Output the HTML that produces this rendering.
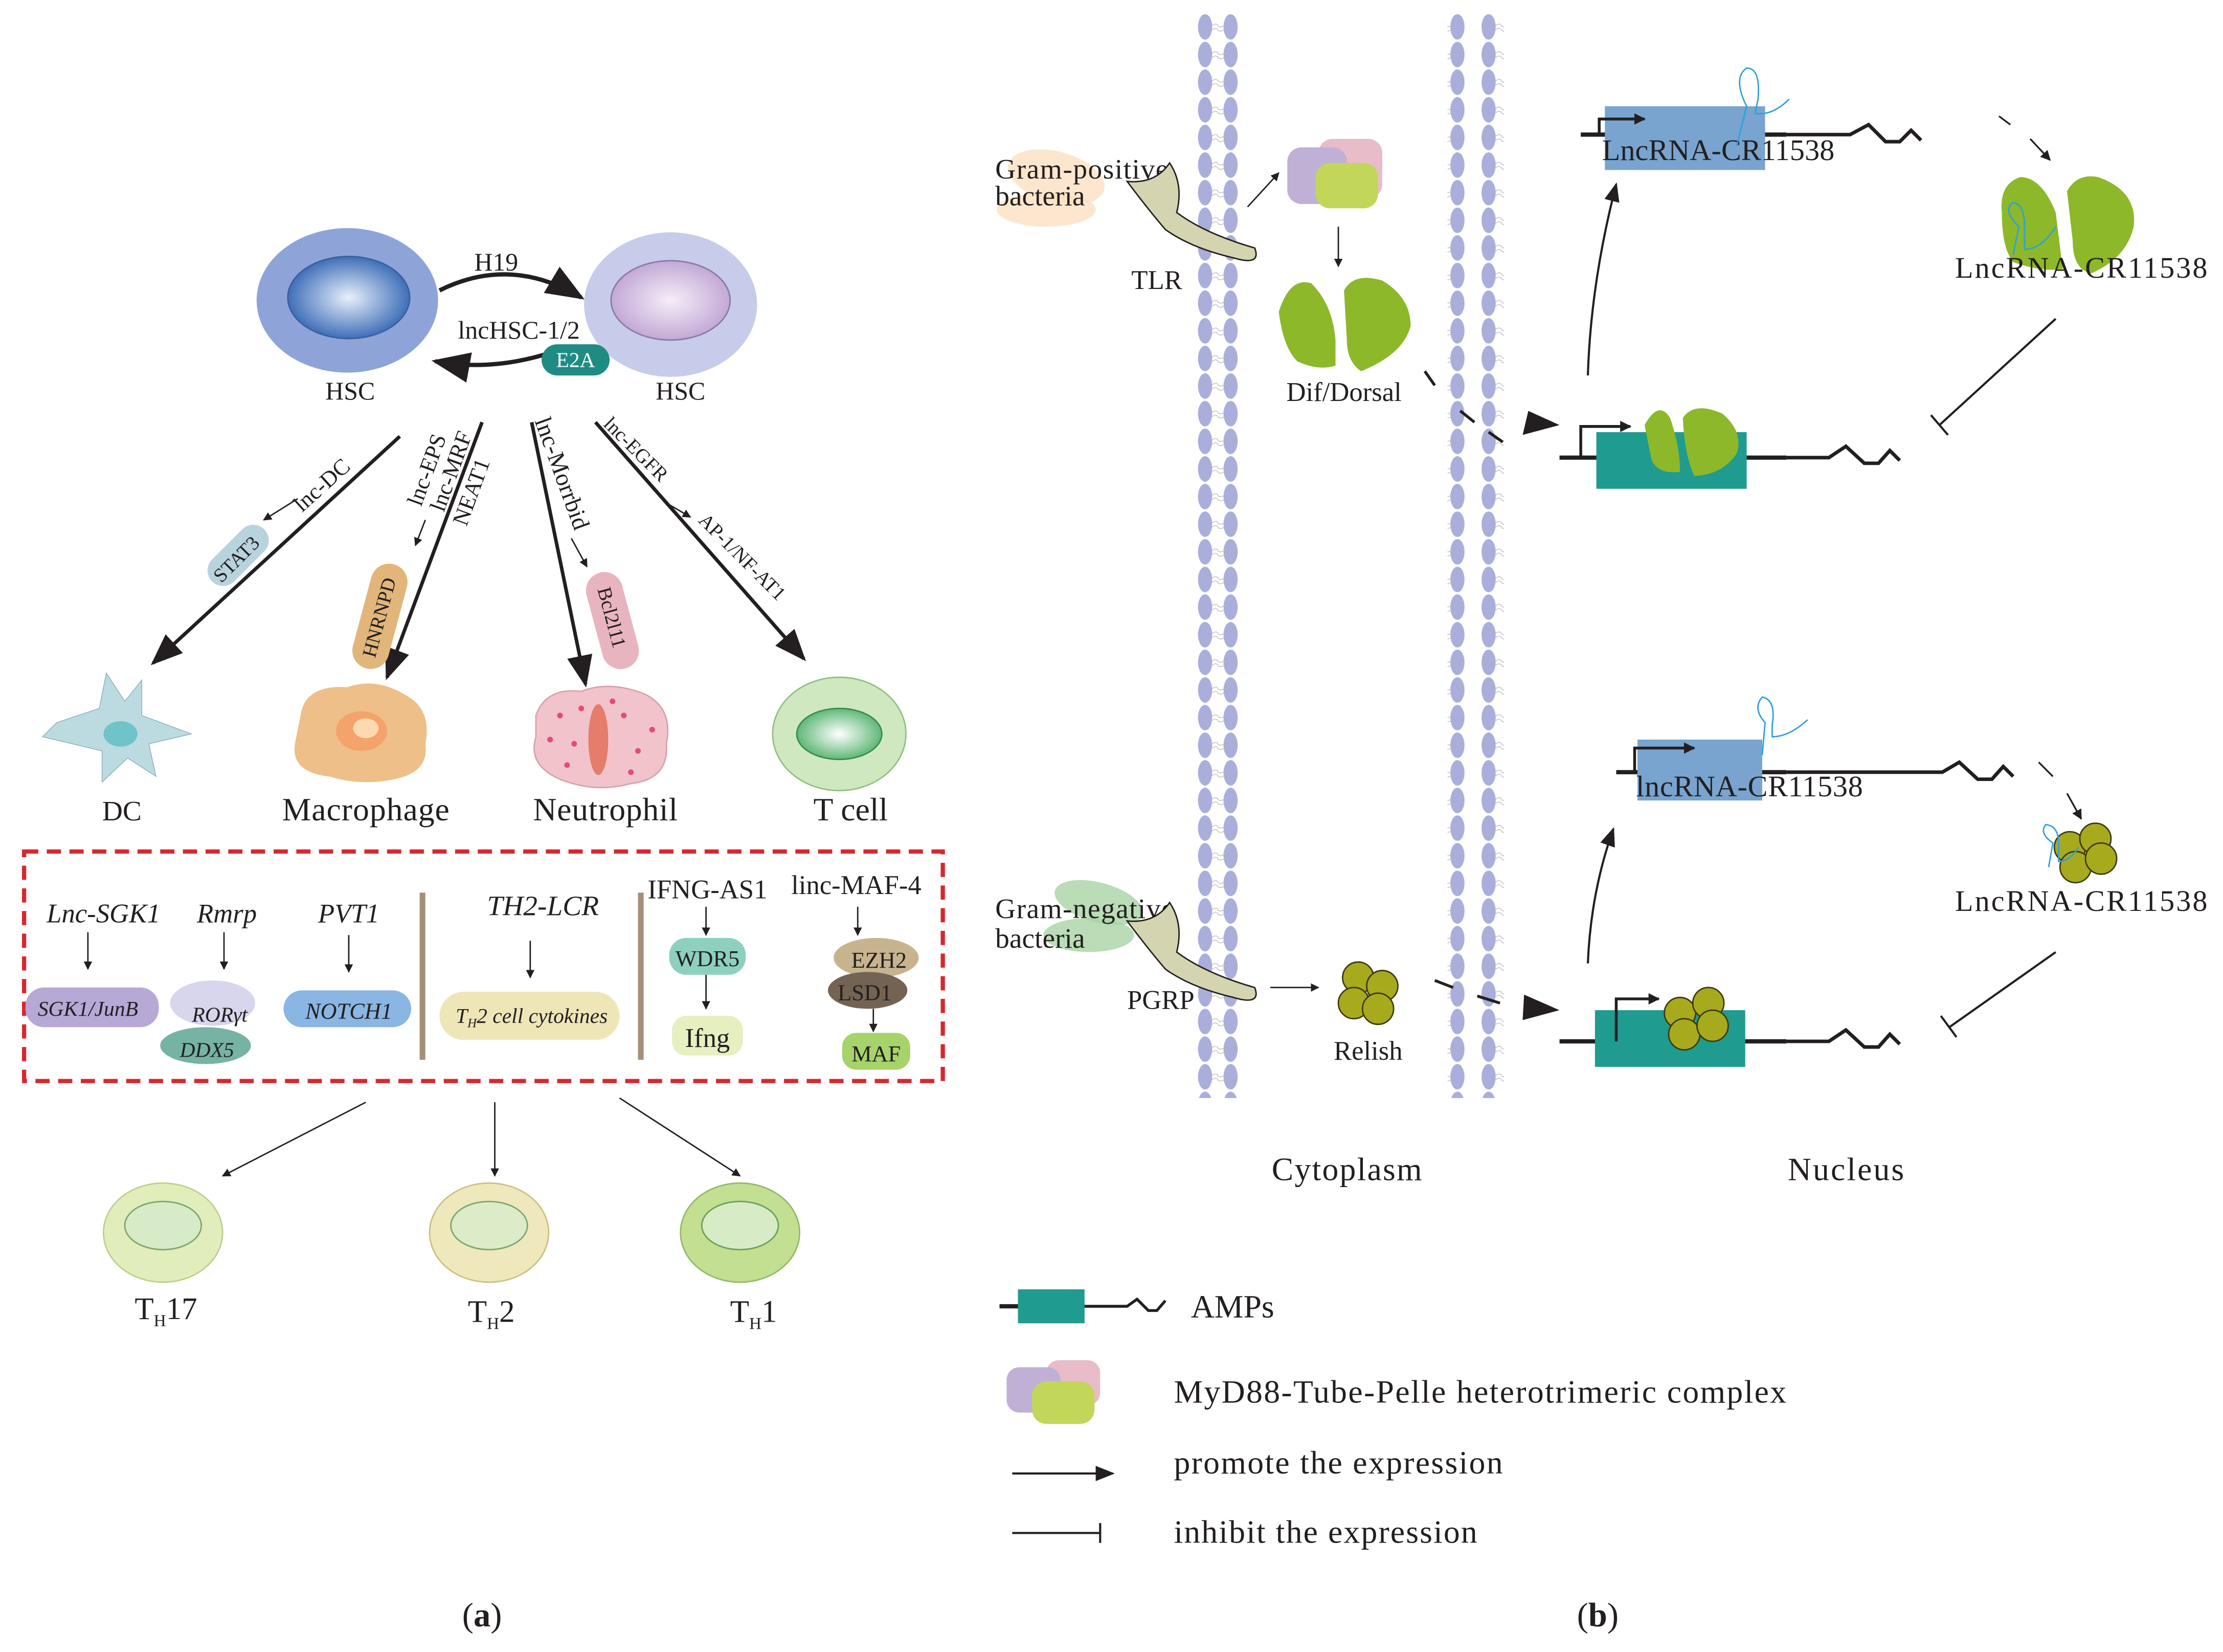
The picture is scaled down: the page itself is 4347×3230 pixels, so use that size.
<!DOCTYPE html>
<html><head><meta charset="utf-8"><style>
html,body{margin:0;padding:0;background:#fff}
svg{display:block}
text{font-family:"Liberation Serif",serif;fill:#231f20}
</style></head><body>
<svg width="4347" height="3230" viewBox="0 0 1568 1166" preserveAspectRatio="none" xmlns="http://www.w3.org/2000/svg">
<defs>
<marker id="ah" viewBox="0 0 10 10" refX="9" refY="5" markerWidth="6" markerHeight="6" orient="auto-start-reverse"><path d="M0,0L10,5L0,10z" fill="#231f20"/></marker>
<marker id="ahs" viewBox="0 0 10 10" refX="9" refY="5" markerWidth="9" markerHeight="9" orient="auto"><path d="M0,1L10,5L0,9z" fill="#231f20"/></marker>
<marker id="ahb" viewBox="0 0 10 10" refX="9" refY="5" markerWidth="4" markerHeight="4" orient="auto"><path d="M0,0L10,5L0,10z" fill="#231f20"/></marker>
<pattern id="mem" x="0" y="10" width="40" height="19.5" patternUnits="userSpaceOnUse">
<ellipse cx="10" cy="9" rx="5" ry="9" fill="#a9aedb"/>
<ellipse cx="28" cy="9" rx="5" ry="9" fill="#a9aedb"/>
<path d="M15,8 q3,-2 4,0 t5,0 M15,11 q3,-2 4,0 t5,0" stroke="#bbb" stroke-width="0.5" fill="none"/>
</pattern>
<radialGradient id="g1"><stop offset="0" stop-color="#e8f0fb"/><stop offset="1" stop-color="#3f6fb8"/></radialGradient>
<radialGradient id="g2"><stop offset="0" stop-color="#f5eef8"/><stop offset="1" stop-color="#c3a9d6"/></radialGradient>
<radialGradient id="g3"><stop offset="0" stop-color="#ffffff"/><stop offset="1" stop-color="#5fb878"/></radialGradient>
</defs>

<!-- ============ Panel a ============ -->
<ellipse cx="245" cy="212" rx="64" ry="51" fill="#8ea4d8"/>
<ellipse cx="246" cy="210" rx="43" ry="29" fill="url(#g1)" stroke="#3a5f9e" stroke-width="1"/>
<ellipse cx="473" cy="215" rx="61" ry="51" fill="#c6cce9"/>
<ellipse cx="473" cy="212" rx="42" ry="28" fill="url(#g2)" stroke="#8a79a8" stroke-width="1"/>
<text x="247" y="282" font-size="18" text-anchor="middle">HSC</text>
<text x="480" y="282" font-size="18" text-anchor="middle">HSC</text>
<path d="M310,205 Q360,180 410,210" fill="none" stroke="#231f20" stroke-width="3" marker-end="url(#ahs)"/>
<text x="350" y="191" font-size="18" text-anchor="middle">H19</text>
<text x="366" y="239" font-size="18" text-anchor="middle">lncHSC-1/2</text>
<path d="M385,250 Q345,262 307,255" fill="none" stroke="#231f20" stroke-width="3" marker-end="url(#ahs)"/>
<rect x="382" y="243" width="48" height="22" rx="11" fill="#1f8c84"/>
<text x="406" y="259" font-size="15" text-anchor="middle" style="fill:#fff">E2A</text>

<line x1="282" y1="308" x2="108" y2="468" stroke="#231f20" stroke-width="2.5" marker-end="url(#ahs)"/>
<line x1="340" y1="298" x2="273" y2="478" stroke="#231f20" stroke-width="2.5" marker-end="url(#ahs)"/>
<line x1="375" y1="298" x2="413" y2="483" stroke="#231f20" stroke-width="2.5" marker-end="url(#ahs)"/>
<line x1="420" y1="298" x2="567" y2="465" stroke="#231f20" stroke-width="2.5" marker-end="url(#ahs)"/>
<line x1="210" y1="352" x2="186" y2="367" stroke="#231f20" stroke-width="1" marker-end="url(#ah)"/>
<line x1="300" y1="367" x2="293" y2="385" stroke="#231f20" stroke-width="1" marker-end="url(#ah)"/>
<line x1="403" y1="380" x2="414" y2="400" stroke="#231f20" stroke-width="1" marker-end="url(#ah)"/>
<line x1="470" y1="355" x2="487" y2="365" stroke="#231f20" stroke-width="1" marker-end="url(#ah)"/>
<text transform="translate(213,362) rotate(-42)" font-size="16">lnc-DC</text>
<text transform="translate(297,358) rotate(-70)" font-size="16">lnc-EPS</text>
<text transform="translate(313,362) rotate(-70)" font-size="16">lnc-MRF</text>
<text transform="translate(329,372) rotate(-70)" font-size="16">NEAT1</text>
<text transform="translate(377,297) rotate(70)" font-size="17">lnc-Morrbid</text>
<text transform="translate(425,300) rotate(45)" font-size="14">lnc-EGFR</text>
<text transform="translate(492,368) rotate(45)" font-size="14">AP-1/NF-AT1</text>
<rect x="-26" y="-11" width="52" height="22" rx="11" fill="#b8d3de" transform="translate(168,392) rotate(-45)"/>
<text transform="translate(170,398) rotate(-45)" font-size="14" text-anchor="middle">STAT3</text>
<rect x="-38" y="-13" width="76" height="26" rx="13" fill="#e2b57b" transform="translate(268,435) rotate(-75)"/>
<text transform="translate(272,437) rotate(-75)" font-size="14" text-anchor="middle">HNRNPD</text>
<rect x="-35" y="-13" width="70" height="26" rx="13" fill="#e8b5bf" transform="translate(432,438) rotate(75)"/>
<text transform="translate(427,437) rotate(75)" font-size="14" text-anchor="middle">Bcl2l11</text>

<path d="M40,510 L70,500 L75,475 L88,495 L100,480 L100,505 L135,518 L105,525 L110,548 L90,535 L72,552 L72,530 L30,520 Z" fill="#bcdbe0" stroke="#8ab" stroke-width="0.5"/>
<ellipse cx="85" cy="518" rx="12" ry="9" fill="#6fc4c9"/>
<path d="M212,505 Q215,483 245,485 Q265,478 285,490 Q305,500 300,525 Q303,545 278,550 Q255,555 232,548 Q205,545 208,525 Z" fill="#eebf88"/>
<ellipse cx="255" cy="516" rx="18" ry="14" fill="#f4a36a"/><ellipse cx="258" cy="514" rx="9" ry="7" fill="#fcd9b0"/>
<path d="M378,505 Q385,485 410,488 Q430,480 455,490 Q475,500 470,525 Q472,550 445,553 Q420,560 395,550 Q372,540 378,520 Z" fill="#f1c4cb" stroke="#d9a1ab" stroke-width="1"/>
<ellipse cx="422" cy="522" rx="7" ry="25" fill="#e57c6c"/>
<g fill="#e54b7a"><circle cx="395" cy="505" r="2"/><circle cx="405" cy="525" r="2"/><circle cx="440" cy="505" r="2"/><circle cx="450" cy="530" r="2"/><circle cx="400" cy="540" r="2"/><circle cx="445" cy="545" r="2"/><circle cx="410" cy="500" r="2"/><circle cx="460" cy="515" r="2"/><circle cx="388" cy="522" r="2"/><circle cx="432" cy="495" r="2"/></g>
<ellipse cx="592" cy="518" rx="47" ry="40" fill="#cfe8c0" stroke="#8fc080"/>
<ellipse cx="592" cy="518" rx="30" ry="18" fill="url(#g3)" stroke="#3a8a4a"/>
<text x="86" y="579" font-size="20" text-anchor="middle">DC</text>
<text x="258" y="579" font-size="23" text-anchor="middle" textLength="118">Macrophage</text>
<text x="427" y="579" font-size="23" text-anchor="middle" textLength="102">Neutrophil</text>
<text x="600" y="579" font-size="23" text-anchor="middle">T cell</text>

<rect x="17" y="601" width="648" height="162" fill="none" stroke="#d7282f" stroke-width="3" stroke-dasharray="10,6"/>
<line x1="298" y1="630" x2="298" y2="748" stroke="#a68f7a" stroke-width="4"/>
<line x1="452" y1="630" x2="452" y2="748" stroke="#a68f7a" stroke-width="4"/>
<text x="73" y="651" font-size="19" font-style="italic" text-anchor="middle">Lnc-SGK1</text>
<text x="160" y="651" font-size="19" font-style="italic" text-anchor="middle">Rmrp</text>
<text x="246" y="651" font-size="19" font-style="italic" text-anchor="middle">PVT1</text>
<text x="383" y="646" font-size="20" font-style="italic" text-anchor="middle">TH2-LCR</text>
<text x="499" y="634" font-size="19" text-anchor="middle">IFNG-AS1</text>
<text x="604" y="631" font-size="19" text-anchor="middle">linc-MAF-4</text>
<g stroke="#231f20" stroke-width="1">
<line x1="62" y1="658" x2="62" y2="684" marker-end="url(#ah)"/>
<line x1="158" y1="658" x2="158" y2="684" marker-end="url(#ah)"/>
<line x1="246" y1="660" x2="246" y2="686" marker-end="url(#ah)"/>
<line x1="374" y1="664" x2="374" y2="690" marker-end="url(#ah)"/>
<line x1="498" y1="640" x2="498" y2="660" marker-end="url(#ah)"/>
<line x1="498" y1="688" x2="498" y2="712" marker-end="url(#ah)"/>
<line x1="605" y1="640" x2="605" y2="660" marker-end="url(#ah)"/>
<line x1="616" y1="712" x2="616" y2="728" marker-end="url(#ah)"/>
</g>
<rect x="18" y="697" width="94" height="28" rx="13" fill="#b7a8d6"/>
<text x="62" y="717" font-size="15" font-style="italic" text-anchor="middle">SGK1/JunB</text>
<ellipse cx="145" cy="738" rx="32" ry="13" fill="#76b3a5"/>
<ellipse cx="150" cy="708" rx="30" ry="16" fill="#d8d6ec"/>
<text x="155" y="721" font-size="15" font-style="italic" text-anchor="middle">RORγt</text>
<text x="146" y="746" font-size="15" font-style="italic" text-anchor="middle">DDX5</text>
<rect x="200" y="699" width="90" height="26" rx="13" fill="#89b6e3"/>
<text x="246" y="719" font-size="16" font-style="italic" text-anchor="middle">NOTCH1</text>
<rect x="310" y="700" width="127" height="34" rx="17" fill="#efe6b8"/>
<text x="375" y="722" font-size="15" font-style="italic" text-anchor="middle">T<tspan font-size="9" dy="3">H</tspan><tspan dy="-3">2 cell cytokines</tspan></text>
<rect x="472" y="662" width="54" height="26" rx="12" fill="#8dd0c0"/>
<text x="499" y="682" font-size="16" text-anchor="middle">WDR5</text>
<rect x="474" y="717" width="50" height="28" rx="10" fill="#e6efc0"/>
<text x="499" y="739" font-size="19" text-anchor="middle">Ifng</text>
<ellipse cx="618" cy="676" rx="30" ry="14" fill="#c7b48f"/>
<text x="620" y="683" font-size="16" text-anchor="middle">EZH2</text>
<ellipse cx="612" cy="699" rx="28" ry="13" fill="#736353"/>
<text x="610" y="706" font-size="16" text-anchor="middle">LSD1</text>
<rect x="594" y="729" width="48" height="26" rx="10" fill="#a6d36a"/>
<text x="618" y="749" font-size="16" text-anchor="middle">MAF</text>

<g stroke="#231f20" stroke-width="1">
<line x1="258" y1="778" x2="157" y2="830" marker-end="url(#ah)"/>
<line x1="349" y1="778" x2="349" y2="830" marker-end="url(#ah)"/>
<line x1="437" y1="775" x2="522" y2="830" marker-end="url(#ah)"/>
</g>
<ellipse cx="115" cy="870" rx="42" ry="35" fill="#e1edbb" stroke="#bcd08a"/>
<ellipse cx="115" cy="865" rx="27" ry="17" fill="#d7ebc8" stroke="#7aa86a"/>
<ellipse cx="345" cy="870" rx="42" ry="35" fill="#efe8bc" stroke="#cbbf82"/>
<ellipse cx="345" cy="865" rx="27" ry="17" fill="#dcecc8" stroke="#7aa86a"/>
<ellipse cx="522" cy="870" rx="42" ry="35" fill="#c2df92" stroke="#94b868"/>
<ellipse cx="522" cy="865" rx="27" ry="17" fill="#d7ecc6" stroke="#6aa05a"/>
<text x="95" y="931" font-size="22">T<tspan font-size="12" dy="5">H</tspan><tspan dy="-5">17</tspan></text>
<text x="330" y="933" font-size="22">T<tspan font-size="12" dy="5">H</tspan><tspan dy="-5">2</tspan></text>
<text x="515" y="933" font-size="22">T<tspan font-size="12" dy="5">H</tspan><tspan dy="-5">1</tspan></text>
<text x="340" y="1148" font-size="24" text-anchor="middle">(<tspan font-weight="bold">a</tspan>)</text>

<!-- ============ Panel b ============ -->
<rect x="838" y="10" width="40" height="765" fill="url(#mem)"/>
<rect x="1021" y="10" width="40" height="765" fill="url(#mem)"/>

<ellipse cx="745" cy="125" rx="35" ry="18" fill="#fbe1c2" opacity="0.8" transform="rotate(15 745 125)"/>
<ellipse cx="738" cy="148" rx="35" ry="12" fill="#fbe1c2" opacity="0.8"/>
<text x="702" y="126" font-size="20" textLength="122">Gram-positive</text>
<text x="702" y="145" font-size="20">bacteria</text>
<path d="M795,128 Q815,130 825,115 Q835,130 830,150 Q850,165 885,175 Q890,188 870,182 Q840,175 822,162 Q810,148 795,128 Z" fill="#d4d4b0" stroke="#231f20" stroke-width="1"/>
<text x="798" y="204" font-size="19">TLR</text>
<line x1="880" y1="146" x2="902" y2="122" stroke="#231f20" stroke-width="1" marker-end="url(#ah)"/>
<rect x="930" y="98" width="45" height="42" rx="10" fill="#e8bcc8"/>
<rect x="908" y="104" width="42" height="40" rx="10" fill="#c0b0d6"/>
<rect x="928" y="115" width="44" height="32" rx="10" fill="#c2d65a"/>
<line x1="944" y1="160" x2="944" y2="188" stroke="#231f20" stroke-width="1" marker-end="url(#ah)"/>
<path d="M902,220 Q910,195 925,200 Q940,215 942,240 L942,258 Q930,262 915,255 Q905,245 902,220 Z" fill="#8cb82a"/>
<path d="M948,205 Q955,192 975,198 Q995,210 995,230 Q990,250 960,262 Q950,255 950,240 Z" fill="#8cb82a"/>
<text x="948" y="283" font-size="19" text-anchor="middle">Dif/Dorsal</text>
<path d="M1005,262 L1012,272 M1030,290 L1040,298 M1050,305 L1060,312" stroke="#231f20" stroke-width="2"/>
<path d="M1078,290 L1100,300 L1074,307 Z" fill="#231f20"/>

<line x1="1115" y1="95" x2="1260" y2="95" stroke="#231f20" stroke-width="3"/>
<path d="M1260,95 L1305,95 L1318,88 L1330,100 L1340,100 L1348,92 L1355,99" fill="none" stroke="#231f20" stroke-width="2.5"/>
<rect x="1132" y="75" width="113" height="45" fill="#78a4cf"/>
<path d="M1128,95 L1128,84 L1160,84" fill="none" stroke="#231f20" stroke-width="2" marker-end="url(#ahb)"/>
<text x="1212" y="113" font-size="21" text-anchor="middle" textLength="164">LncRNA-CR11538</text>
<path d="M1225,103 L1232,75 Q1222,55 1232,48 Q1242,48 1240,70 L1238,80 Q1250,82 1262,70" fill="none" stroke="#2fa0dc" stroke-width="1"/>
<path d="M1120,265 Q1122,200 1140,130" fill="none" stroke="#231f20" stroke-width="1.5" marker-end="url(#ahs)"/>
<path d="M1410,82 L1418,88 M1432,98 L1446,113" fill="none" stroke="#231f20" stroke-width="1.2" marker-end="url(#ah)"/>
<path d="M1412,150 Q1410,130 1425,125 Q1440,125 1450,150 L1455,190 Q1440,192 1420,185 Q1412,175 1412,150 Z" fill="#8cb82a"/>
<path d="M1458,135 Q1465,122 1480,125 Q1508,135 1505,160 Q1500,182 1475,193 Q1462,190 1462,170 Z" fill="#8cb82a"/>
<path d="M1420,180 L1424,160 Q1412,148 1420,143 Q1428,144 1428,160 L1428,176 Q1440,176 1450,160" fill="none" stroke="#2fa0dc" stroke-width="1"/>
<text x="1468" y="196" font-size="21" text-anchor="middle" textLength="178">LncRNA-CR11538</text>
<line x1="1450" y1="225" x2="1368" y2="300" stroke="#231f20" stroke-width="1.5"/>
<line x1="1362" y1="293" x2="1374" y2="307" stroke="#231f20" stroke-width="1.5"/>

<line x1="1100" y1="323" x2="1260" y2="323" stroke="#231f20" stroke-width="3"/>
<path d="M1260,323 L1290,323 L1302,315 L1315,327 L1325,327 L1333,318 L1340,325" fill="none" stroke="#231f20" stroke-width="2.5"/>
<rect x="1126" y="305" width="106" height="40" fill="#1f9b8f"/>
<path d="M1115,323 L1115,301 L1150,301" fill="none" stroke="#231f20" stroke-width="2" marker-end="url(#ahb)"/>
<path d="M1160,300 Q1170,282 1178,295 Q1185,315 1185,333 Q1170,335 1165,325 Z" fill="#8cb82a"/>
<path d="M1187,295 Q1195,283 1215,292 Q1230,305 1225,320 Q1215,335 1195,336 Q1188,320 1187,295 Z" fill="#8cb82a"/>

<ellipse cx="775" cy="637" rx="32" ry="14" fill="#a9d3a5" opacity="0.8" transform="rotate(15 775 637)"/>
<ellipse cx="768" cy="660" rx="32" ry="12" fill="#a9d3a5" opacity="0.8"/>
<text x="702" y="648" font-size="20" textLength="126">Gram-negative</text>
<text x="702" y="669" font-size="20">bacteria</text>
<path d="M795,650 Q815,652 825,637 Q835,652 830,672 Q850,687 885,697 Q890,710 870,704 Q840,697 822,684 Q810,670 795,650 Z" fill="#d4d4b0" stroke="#231f20" stroke-width="1"/>
<text x="795" y="712" font-size="19">PGRP</text>
<line x1="896" y1="697" x2="930" y2="697" stroke="#231f20" stroke-width="1" marker-end="url(#ah)"/>
<g fill="#a8aa1e" stroke="#3a3a10" stroke-width="1">
<circle cx="958" cy="690" r="11"/><circle cx="975" cy="696" r="11"/><circle cx="955" cy="708" r="11"/><circle cx="972" cy="712" r="11"/>
</g>
<text x="965" y="748" font-size="19" text-anchor="middle">Relish</text>
<path d="M1012,692 L1025,697 M1042,703 L1058,708" stroke="#231f20" stroke-width="2"/>
<path d="M1075,702 L1100,713 L1074,720 Z" fill="#231f20"/>

<line x1="1140" y1="545" x2="1260" y2="545" stroke="#231f20" stroke-width="3"/>
<path d="M1260,545 L1370,545 L1382,538 L1395,550 L1405,550 L1413,541 L1420,548" fill="none" stroke="#231f20" stroke-width="2.5"/>
<rect x="1155" y="522" width="88" height="43" fill="#78a4cf"/>
<path d="M1153,545 L1153,528 L1195,528" fill="none" stroke="#231f20" stroke-width="2" marker-end="url(#ahb)"/>
<text x="1234" y="562" font-size="21" text-anchor="middle" textLength="160">lncRNA-CR11538</text>
<path d="M1243,533 L1245,510 Q1236,500 1243,492 Q1253,494 1250,512 L1250,520 Q1262,520 1275,508" fill="none" stroke="#2fa0dc" stroke-width="1"/>
<path d="M1120,680 Q1122,630 1138,585" fill="none" stroke="#231f20" stroke-width="1.5" marker-end="url(#ahs)"/>
<path d="M1438,538 L1448,548 M1458,560 L1468,578" fill="none" stroke="#231f20" stroke-width="1.2" marker-end="url(#ah)"/>
<g fill="#a8aa1e" stroke="#3a3a10" stroke-width="1">
<circle cx="1460" cy="598" r="11"/><circle cx="1478" cy="592" r="11"/><circle cx="1464" cy="612" r="11"/><circle cx="1482" cy="606" r="11"/>
</g>
<path d="M1445,612 L1448,595 Q1438,588 1443,582 Q1452,583 1452,595 L1452,608 Q1460,608 1466,598" fill="none" stroke="#2fa0dc" stroke-width="1"/>
<text x="1468" y="643" font-size="21" text-anchor="middle" textLength="178">LncRNA-CR11538</text>
<line x1="1450" y1="672" x2="1375" y2="725" stroke="#231f20" stroke-width="1.5"/>
<line x1="1369" y1="717" x2="1380" y2="732" stroke="#231f20" stroke-width="1.5"/>

<line x1="1100" y1="735" x2="1260" y2="735" stroke="#231f20" stroke-width="3"/>
<path d="M1260,735 L1290,735 L1302,727 L1315,739 L1325,739 L1333,730 L1340,737" fill="none" stroke="#231f20" stroke-width="2.5"/>
<rect x="1125" y="713" width="106" height="40" fill="#1f9b8f"/>
<path d="M1140,735 L1140,705 L1170,705" fill="none" stroke="#231f20" stroke-width="2" marker-end="url(#ahb)"/>
<g fill="#a8aa1e" stroke="#3a3a10" stroke-width="1">
<circle cx="1185" cy="715" r="11"/><circle cx="1205" cy="708" r="11"/><circle cx="1188" cy="730" r="11"/><circle cx="1208" cy="724" r="11"/>
</g>

<text x="950" y="833" font-size="23" text-anchor="middle" textLength="106">Cytoplasm</text>
<text x="1302" y="833" font-size="23" text-anchor="middle" textLength="82">Nucleus</text>

<line x1="705" y1="922" x2="765" y2="922" stroke="#231f20" stroke-width="3"/>
<rect x="718" y="910" width="47" height="24" fill="#1f9b8f"/>
<path d="M765,922 L795,922 L802,917 L810,925 L816,925 L822,918" fill="none" stroke="#231f20" stroke-width="2"/>
<text x="840" y="930" font-size="23">AMPs</text>
<rect x="738" y="960" width="38" height="32" rx="9" fill="#e8bcc8"/>
<rect x="710" y="965" width="38" height="32" rx="9" fill="#c0b0d6"/>
<rect x="728" y="975" width="44" height="30" rx="10" fill="#c2d65a"/>
<text x="828" y="990" font-size="23" textLength="432">MyD88-Tube-Pelle heterotrimeric complex</text>
<line x1="714" y1="1040" x2="785" y2="1040" stroke="#231f20" stroke-width="1.5" marker-end="url(#ahs)"/>
<text x="828" y="1040" font-size="23" textLength="232">promote the expression</text>
<line x1="714" y1="1082" x2="776" y2="1082" stroke="#231f20" stroke-width="1.5"/>
<line x1="776" y1="1075" x2="776" y2="1089" stroke="#231f20" stroke-width="1.5"/>
<text x="828" y="1089" font-size="23" textLength="214">inhibit the expression</text>
<text x="1127" y="1148" font-size="24" text-anchor="middle">(<tspan font-weight="bold">b</tspan>)</text>
</svg>
</body></html>
